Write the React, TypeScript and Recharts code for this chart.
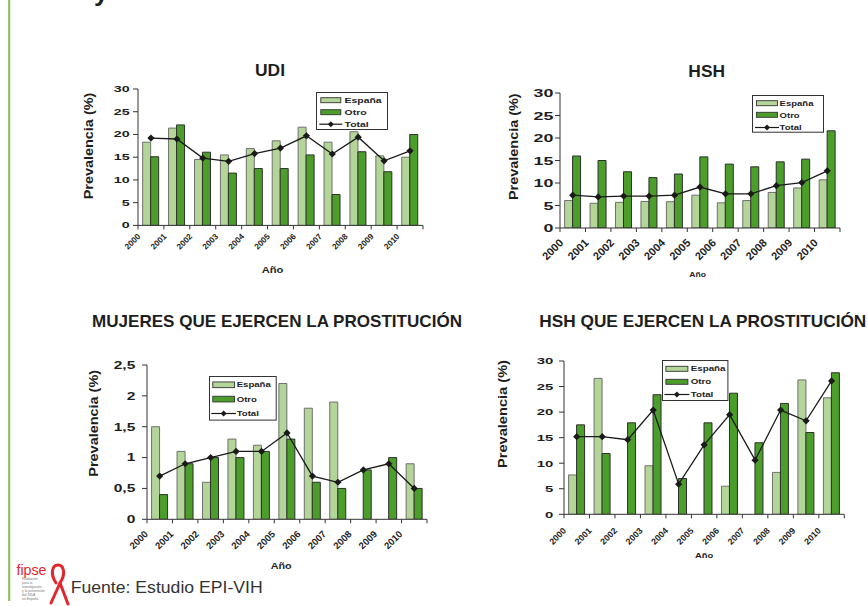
import React from 'react';
import { ComposedChart, Bar, Line, XAxis, YAxis, Legend } from 'recharts';

const YEARS = ['2000', '2001', '2002', '2003', '2004', '2005', '2006', '2007', '2008', '2009', '2010'];
const SERIES_NAMES = ['España', 'Otro', 'Total'];

const UDI_ESPANA = [18.3, 21.4, 14.5, 15.5, 16.9, 18.6, 21.6, 18.3, 20.6, 15.3, 15.0];
const UDI_OTRO = [15.1, 22.1, 16.1, 11.5, 12.5, 12.5, 15.5, 6.8, 16.2, 11.8, 20.0];
const UDI_TOTAL = [19.2, 19.0, 14.8, 14.1, 15.8, 17.0, 19.7, 15.7, 19.4, 14.2, 16.4];

const HSH_ESPANA = [6.1, 5.5, 5.7, 5.9, 5.85, 7.3, 5.6, 6.1, 7.9, 8.9, 10.7];
const HSH_OTRO = [16.0, 15.0, 12.5, 11.2, 12.0, 15.8, 14.2, 13.6, 14.7, 15.3, 21.6];
const HSH_TOTAL = [7.3, 6.9, 7.1, 7.1, 7.3, 9.1, 7.6, 7.6, 9.4, 10.1, 12.7];

const MUJ_ESPANA = [1.5, 1.1, 0.6, 1.3, 1.2, 2.2, 1.8, 1.9, 0, 0, 0.9];
const MUJ_OTRO = [0.4, 0.9, 1.0, 1.0, 1.1, 1.3, 0.6, 0.5, 0.8, 1.0, 0.5];
const MUJ_TOTAL = [0.7, 0.9, 1.0, 1.1, 1.1, 1.4, 0.7, 0.6, 0.8, 0.9, 0.5];

const HSHP_ESPANA = [7.7, 26.6, 0, 9.5, 0, 0, 5.5, 0, 8.2, 26.3, 22.8];
const HSHP_OTRO = [17.5, 11.9, 17.9, 23.4, 7.0, 17.9, 23.7, 14.0, 21.7, 16.0, 27.7];
const HSHP_TOTAL = [15.2, 15.2, 14.6, 20.4, 5.9, 13.6, 19.5, 10.6, 20.4, 18.3, 26.1];

const TICKS_30 = [0, 5, 10, 15, 20, 25, 30];
const TICKS_25 = [0, 0.5, 1, 1.5, 2, 2.5];

const TITLES = ['UDI', 'HSH', 'MUJERES QUE EJERCEN LA PROSTITUCIÓN', 'HSH QUE EJERCEN LA PROSTITUCIÓN'];
const Y_LABEL = 'Prevalencia (%)';
const X_LABEL = 'Año';
const SOURCE = 'Fuente: Estudio EPI-VIH';

const FONT = '"Liberation Sans", Arial, Helvetica, sans-serif';
const LIGHT = '#b3d598';
const DARK = '#4c9e2a';
const AXIS = '#333';
const TEXT = '#1e1e1e';

const ML = 55;
const MT = 12;
const MR = 5;
const XH = 45;

const fmtComma = (v: number) => String(v).replace('.', ',');
const fmtPlain = (v: number) => String(v);

type LegendCfg = {
  x: number; y: number; w: number; h: number;
  sx: number; sw: number; sh: number; tx: number;
  rows: number[]; font: number; scale: number;
};

type PanelCfg = {
  px: number; py: number; pw: number; ph: number;
  espana: number[]; otro: number[]; total: number[];
  max: number; ticks: number[]; fmt: (v: number) => string;
  yFont: number; ySx: number; yGap: number;
  xFont: number; xdx: number; xdy: number;
  frame: string | null;
  legend: LegendCfg;
};

const PANELS: PanelCfg[] = [
  {
    px: 138, py: 89.3, pw: 285, ph: 136.4,
    espana: UDI_ESPANA, otro: UDI_OTRO, total: UDI_TOTAL,
    max: 30, ticks: TICKS_30, fmt: fmtPlain,
    yFont: 8.4, ySx: 1.7, yGap: 8.4,
    xFont: 8.2, xdx: 3, xdy: 11.7,
    frame: '#a8a8a8',
    legend: { x: 315.7, y: 92.3, w: 71, h: 37, sx: 4.3, sw: 20, sh: 5, tx: 28.6, rows: [7.7, 19.7, 31.7], font: 8, scale: 1.3 },
  },
  {
    px: 560, py: 93.3, pw: 280, ph: 135,
    espana: HSH_ESPANA, otro: HSH_OTRO, total: HSH_TOTAL,
    max: 30, ticks: TICKS_30, fmt: fmtPlain,
    yFont: 11.5, ySx: 1.55, yGap: 6.7,
    xFont: 11, xdx: 4, xdy: 15.5,
    frame: null,
    legend: { x: 751.7, y: 95, w: 71, h: 36.7, sx: 4, sw: 21, sh: 5, tx: 27.6, rows: [7.7, 19.3, 32], font: 7.5, scale: 1.27 },
  },
  {
    px: 146.7, py: 365, pw: 280, ph: 154.3,
    espana: MUJ_ESPANA, otro: MUJ_OTRO, total: MUJ_TOTAL,
    max: 2.5, ticks: TICKS_25, fmt: fmtComma,
    yFont: 10.7, ySx: 1.45, yGap: 11.7,
    xFont: 9.6, xdx: 1.6, xdy: 15.5,
    frame: '#d4d4d4',
    legend: { x: 209, y: 375.7, w: 66.7, h: 43.6, sx: 3.3, sw: 21.7, sh: 5.7, tx: 27.7, rows: [8.3, 22.6, 37], font: 7, scale: 1.37 },
  },
  {
    px: 564, py: 360.7, pw: 280.3, ph: 153.3,
    espana: HSHP_ESPANA, otro: HSHP_OTRO, total: HSHP_TOTAL,
    max: 30, ticks: TICKS_30, fmt: fmtPlain,
    yFont: 9.3, ySx: 1.6, yGap: 10.7,
    xFont: 8.8, xdx: 2.7, xdy: 17.1,
    frame: '#d4d4d4',
    legend: { x: 662.3, y: 360, w: 65.4, h: 40, sx: 3.4, sw: 22, sh: 5, tx: 28.7, rows: [8.3, 21.3, 34], font: 7, scale: 1.4 },
  },
];

function diamond(cx: number, cy: number, r: number) {
  return `M${cx},${cy - r} L${cx + r},${cy} L${cx},${cy + r} L${cx - r},${cy} Z`;
}

function LegendBox({ lg }: { lg: LegendCfg }) {
  const colors = [LIGHT, DARK];
  return (
    <svg width={lg.w + 2} height={lg.h + 2} style={{ display: 'block' }}>
      <rect x={0.5} y={0.5} width={lg.w} height={lg.h} fill="#fff" stroke="#333" strokeWidth={1} />
      {SERIES_NAMES.map((name, i) => {
        const cy = lg.rows[i] + 0.5;
        return (
          <g key={name}>
            {i < 2 ? (
              <rect x={lg.sx + 0.5} y={cy - lg.sh / 2} width={lg.sw} height={lg.sh} fill={colors[i]} stroke="#333" strokeWidth={0.9} />
            ) : (
              <g>
                <line x1={lg.sx - 1} y1={cy} x2={lg.sx + lg.sw + 2} y2={cy} stroke="#1a1a1a" strokeWidth={1.2} />
                <path d={diamond(lg.sx + lg.sw / 2 + 0.5, cy, 3)} fill="#1a1a1a" />
              </g>
            )}
            <text
              transform={`translate(${lg.tx},${cy}) scale(${lg.scale},1)`}
              dy="0.36em"
              fontSize={lg.font}
              fontWeight="bold"
              fontFamily={FONT}
              fill={TEXT}
            >
              {name}
            </text>
          </g>
        );
      })}
    </svg>
  );
}

function Panel({ cfg }: { cfg: PanelCfg }) {
  const width = cfg.pw + ML + MR;
  const height = cfg.ph + MT + XH;
  const band = cfg.pw / YEARS.length;
  const axisY = MT + cfg.ph;
  const left = cfg.px - ML;
  const top = cfg.py - MT;
  const data = YEARS.map((year, i) => ({
    year,
    espana: cfg.espana[i],
    otro: cfg.otro[i],
    total: cfg.total[i],
  }));

  const xTick = (props: any) => {
    const { x, payload } = props;
    const idx = YEARS.indexOf(String(payload.value));
    const bx = x - band / 2;
    const last = idx === YEARS.length - 1;
    return (
      <g>
        <line x1={bx} y1={axisY} x2={bx} y2={axisY + 4} stroke={AXIS} strokeWidth={1} />
        {last && <line x1={bx + band} y1={axisY} x2={bx + band} y2={axisY + 4} stroke={AXIS} strokeWidth={1} />}
        <text
          transform={`translate(${bx + cfg.xdx},${axisY + cfg.xdy}) rotate(-45)`}
          textAnchor="end"
          fontSize={cfg.xFont}
          fontWeight="bold"
          fontFamily={FONT}
          fill={TEXT}
        >
          {payload.value}
        </text>
      </g>
    );
  };

  const yTick = (props: any) => {
    const { y, payload } = props;
    return (
      <text
        transform={`translate(${ML - cfg.yGap},${y}) scale(${cfg.ySx},1)`}
        textAnchor="end"
        dy="0.36em"
        fontSize={cfg.yFont}
        fontWeight="bold"
        fontFamily={FONT}
        fill={TEXT}
      >
        {cfg.fmt(payload.value)}
      </text>
    );
  };

  const dot = (props: any) => {
    const { cx, cy, index } = props;
    return <path key={`d${index}`} d={diamond(cx, cy, 3.6)} fill="#1a1a1a" stroke="none" />;
  };

  const lg = cfg.legend;

  return (
    <div style={{ position: 'absolute', left, top, width, height }}>
      <ComposedChart
        width={width}
        height={height}
        data={data}
        margin={{ top: MT, right: MR, bottom: 0, left: 0 }}
        barCategoryGap="18%"
        barGap={0}
      >
        <XAxis
          dataKey="year"
          height={XH}
          interval={0}
          tickLine={false}
          axisLine={{ stroke: AXIS, strokeWidth: 1 }}
          tick={xTick}
        />
        <YAxis
          width={ML}
          type="number"
          domain={[0, cfg.max]}
          ticks={cfg.ticks}
          interval={0}
          tickSize={5}
          tickLine={{ stroke: AXIS }}
          axisLine={{ stroke: AXIS, strokeWidth: 1 }}
          tick={yTick}
          allowDataOverflow
        />
        {cfg.frame && (
          <XAxis
            xAxisId="top"
            orientation="top"
            dataKey="year"
            height={0}
            tick={false}
            tickLine={false}
            axisLine={{ stroke: cfg.frame, strokeWidth: 1 }}
          />
        )}
        {cfg.frame && (
          <YAxis
            yAxisId="right"
            orientation="right"
            width={0}
            domain={[0, cfg.max]}
            tick={false}
            tickLine={false}
            axisLine={{ stroke: cfg.frame, strokeWidth: 1 }}
          />
        )}
        <Bar dataKey="espana" name="España" fill={LIGHT} stroke="#6f6f6f" strokeWidth={1} isAnimationActive={false} />
        <Bar dataKey="otro" name="Otro" fill={DARK} stroke="#2e2e2e" strokeWidth={1} isAnimationActive={false} />
        <Line
          dataKey="total"
          name="Total"
          type="linear"
          stroke="#1a1a1a"
          strokeWidth={1.3}
          dot={dot}
          activeDot={false}
          isAnimationActive={false}
        />
        <Legend
          layout="vertical"
          align="center"
          verticalAlign="middle"
          wrapperStyle={{ left: lg.x - left, top: lg.y - top, width: lg.w + 2, height: lg.h + 2, margin: 0, padding: 0 }}
          content={() => <LegendBox lg={lg} />}
        />
      </ComposedChart>
    </div>
  );
}

type LabelPos = { x: number; y: number; len: number; font: number };

const TITLE_POS: { x: number; y: number; len: number; anchor: 'middle' | 'start' }[] = [
  { x: 270, y: 76, len: 30, anchor: 'middle' },
  { x: 706.7, y: 76.7, len: 36.7, anchor: 'middle' },
  { x: 92, y: 327, len: 370, anchor: 'start' },
  { x: 539.3, y: 326.7, len: 327, anchor: 'start' },
];

const YLABEL_POS: LabelPos[] = [
  { x: 92.5, y: 146, len: 106.7, font: 12.5 },
  { x: 518, y: 146.7, len: 106.7, font: 12.5 },
  { x: 98, y: 423.3, len: 106.7, font: 12.5 },
  { x: 507, y: 414, len: 108, font: 12.5 },
];

const XLABEL_POS: LabelPos[] = [
  { x: 272.5, y: 272.7, len: 21.7, font: 9.5 },
  { x: 697.7, y: 277.3, len: 16.7, font: 8 },
  { x: 281.2, y: 569.3, len: 21, font: 9.7 },
  { x: 704.2, y: 558.3, len: 18.3, font: 8 },
];

const LOGO_LINES = ['Fundación', 'para la', 'investigación', 'y la prevención', 'del SIDA', 'en España'];

export default function App() {
  return (
    <div
      style={{
        position: 'absolute',
        left: 0,
        top: 0,
        width: 868,
        height: 606,
        background: '#fff',
        overflow: 'hidden',
        fontFamily: FONT,
      }}
    >
      <svg width={868} height={606} style={{ position: 'absolute', left: 0, top: 0 }}>
        <line x1={9.2} y1={0} x2={9.2} y2={601} stroke="#8dc066" strokeWidth={2.2} />
        <text x={94} y={1} fontSize={26} fontWeight="bold" fontFamily={FONT} fill={TEXT}>y</text>
        {TITLES.map((t, i) => (
          <text
            key={t}
            x={TITLE_POS[i].x}
            y={TITLE_POS[i].y}
            textAnchor={TITLE_POS[i].anchor}
            fontSize={16.3}
            fontWeight="bold"
            fontFamily={FONT}
            fill={TEXT}
            textLength={TITLE_POS[i].len}
            lengthAdjust="spacingAndGlyphs"
          >
            {t}
          </text>
        ))}
        {YLABEL_POS.map((p, i) => (
          <text
            key={`yl${i}`}
            transform={`translate(${p.x},${p.y}) rotate(-90)`}
            textAnchor="middle"
            fontSize={p.font}
            fontWeight="bold"
            fontFamily={FONT}
            fill={TEXT}
            textLength={p.len}
            lengthAdjust="spacingAndGlyphs"
          >
            {Y_LABEL}
          </text>
        ))}
        {XLABEL_POS.map((p, i) => (
          <text
            key={`xl${i}`}
            x={p.x}
            y={p.y}
            textAnchor="middle"
            fontSize={p.font}
            fontWeight="bold"
            fontFamily={FONT}
            fill={TEXT}
            textLength={p.len}
            lengthAdjust="spacingAndGlyphs"
          >
            {X_LABEL}
          </text>
        ))}
        {/* logo */}
        <text x={16.5} y={575} fontSize={15} fontFamily={FONT} fill="#e2262d" textLength={30} lengthAdjust="spacingAndGlyphs">
          fipse
        </text>
        <path
          d="M56,583 C50,574 52,565 58,565 C64,565 66,574 60,583 L68,604"
          fill="none"
          stroke="#e2262d"
          strokeWidth={3}
          strokeLinecap="round"
        />
        <path d="M60,583 L51,603" fill="none" stroke="#e2262d" strokeWidth={3} strokeLinecap="round" />
        {LOGO_LINES.map((l, i) => (
          <text key={l} x={22} y={580 + i * 4} fontSize={3.4} fontFamily={FONT} fill="#777">
            {l}
          </text>
        ))}
        <text x={70.7} y={593.3} fontSize={16.5} fontFamily={FONT} fill="#333" textLength={192} lengthAdjust="spacingAndGlyphs">
          {SOURCE}
        </text>
      </svg>
      {PANELS.map((cfg, i) => (
        <Panel key={i} cfg={cfg} />
      ))}
    </div>
  );
}
